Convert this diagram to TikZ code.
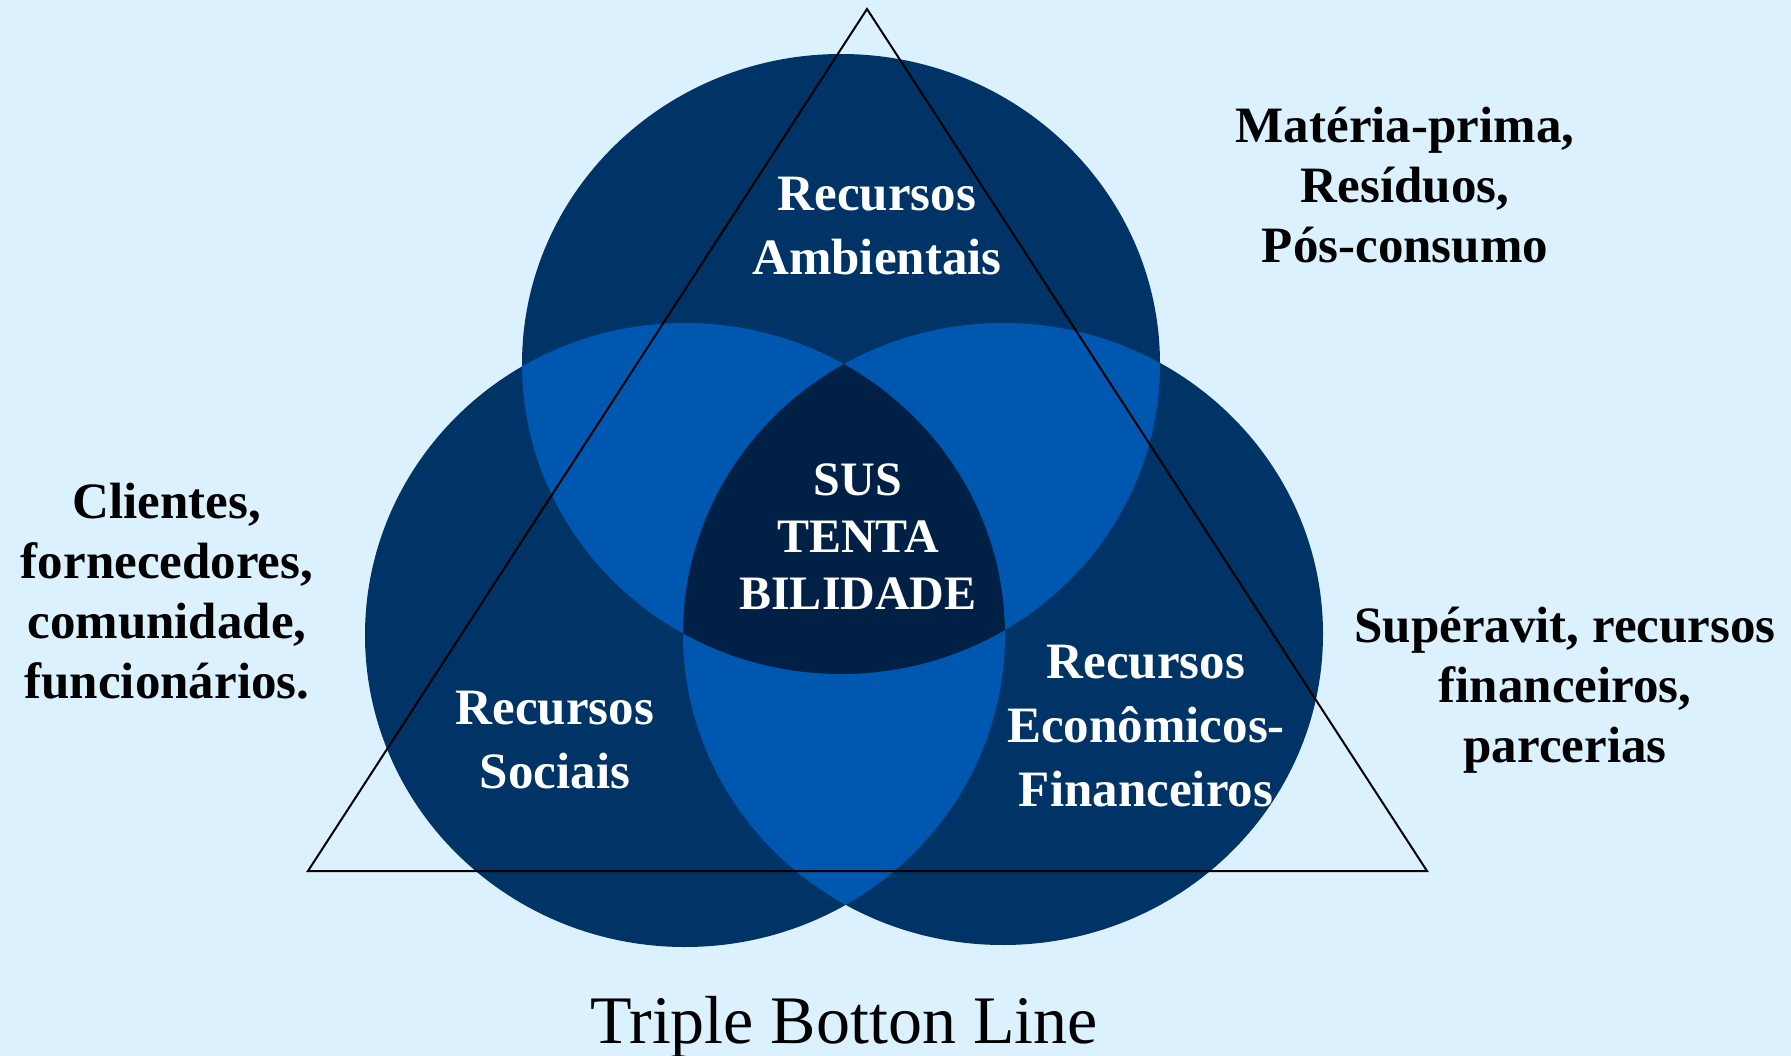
\documentclass[tikz,border=0pt]{standalone}
\usepackage{fontspec}
\setmainfont{Liberation Serif}
\definecolor{bgc}{HTML}{DCF1FE}
\definecolor{navy}{HTML}{003366}
\definecolor{brightb}{HTML}{0057B0}
\definecolor{core}{HTML}{002145}
\tikzset{
  whitelbl/.style={text=white, font=\fontsize{51}{64}\selectfont\bfseries, align=center, inner sep=0pt},
  blacklbl/.style={text=black, font=\fontsize{51}{60}\selectfont\bfseries, align=center, inner sep=0pt},
  corelbl/.style={text=white, font=\fontsize{48}{57}\selectfont\bfseries, align=center, inner sep=0pt},
  tri/.style={draw=black, line width=2pt, line join=miter}
}
\begin{document}
\begin{tikzpicture}[x=1pt,y=-1pt]
\useasboundingbox (0,0) rectangle (1791,1056);
\fill[bgc] (0,0) rectangle (1791,1056);
% circles
\fill[navy] (841,364) ellipse [x radius=319, y radius=310];
\fill[navy] (685,635) ellipse [x radius=320, y radius=312];
\fill[navy] (1003,634) ellipse [x radius=320, y radius=311];
% pairwise overlaps
\begin{scope}
  \clip (841,364) ellipse [x radius=319, y radius=310];
  \fill[brightb] (685,635) ellipse [x radius=320, y radius=312];
  \fill[brightb] (1003,634) ellipse [x radius=320, y radius=311];
\end{scope}
\begin{scope}
  \clip (685,635) ellipse [x radius=320, y radius=312];
  \fill[brightb] (1003,634) ellipse [x radius=320, y radius=311];
\end{scope}
% triple overlap
\begin{scope}
  \clip (841,364) ellipse [x radius=319, y radius=310];
  \clip (685,635) ellipse [x radius=320, y radius=312];
  \fill[core] (1003,634) ellipse [x radius=320, y radius=311];
\end{scope}
% triangle
\coordinate (apex) at (867,9);
\coordinate (bl) at (308,871);
\coordinate (br) at (1427,871);
\draw[tri] (apex) -- (bl) -- (br) -- cycle;
% labels
\node[whitelbl] (amb) at (877,226) {Recursos\\Ambientais};
\node[corelbl] (sus) at (858,537) {SUS\\TENTA\\BILIDADE};
\node[whitelbl] (soc) at (555,740) {Recursos\\Sociais};
\node[whitelbl] (eco) at (1146,726) {Recursos\\Econômicos-\\Financeiros};
\node[blacklbl] (mat) at (1405,185) {Matéria-prima,\\Resíduos,\\Pós-consumo};
\node[blacklbl] (cli) at (167,591) {Clientes,\\fornecedores,\\comunidade,\\funcionários.};
\node[blacklbl] (sup) at (1565,690) {Supéravit, recursos\\financeiros,\\parcerias};
\node[text=black, font=\fontsize{68}{74}\selectfont, inner sep=0pt] (tbl) at (844,1027) {Triple Botton Line};
\end{tikzpicture}
\end{document}
